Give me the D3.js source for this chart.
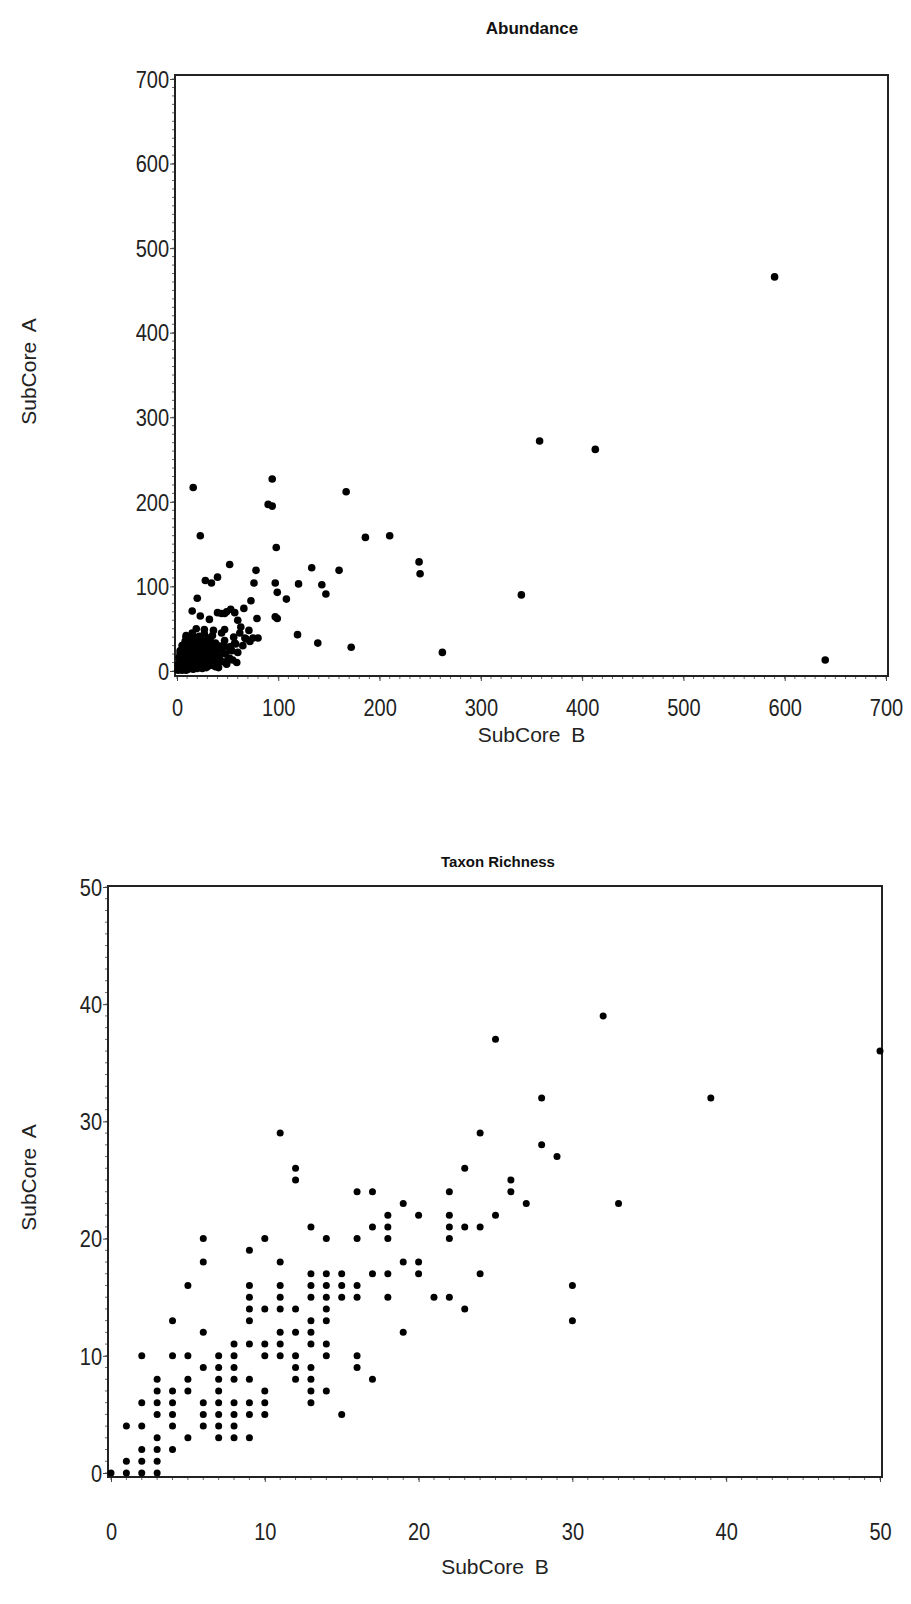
<!DOCTYPE html>
<meta charset="utf-8">
<style>
  body { margin: 0; background: #fff; }
  svg { display: block; }
  .tick text { font-family: "Liberation Sans", Arial, sans-serif; font-size: 23px; fill: #222; }
  .axis-title { font-family: "Liberation Sans", Arial, sans-serif; font-size: 21px; fill: #222; word-spacing: 5px; }
  .plot-title { font-family: "Liberation Sans", Arial, sans-serif; font-weight: bold; fill: #111; }
</style>
<script src="https://d3js.org/d3.v7.min.js"></script>
<body>
<script>

const width = 911;
const height = 1604;

// Abundance: [SubCore B, SubCore A]
const abundance = [
  [16,217],[94,227],[167,212],[90,197],[94,195],[23,160],[186,158],[210,160],[98,146],
  [52,126],[239,129],[240,115],[133,122],[160,119],[78,119],[40,111],[28,107],[34,104],
  [76,104],[97,104],[120,103],[143,102],[99,93],[147,91],[108,85],[20,86],[73,83],
  [15,71],[97,64],[99,62],[79,62],[119,43],[139,33],[172,28],[262,22],
  [590,466],[358,272],[413,262],[340,90],[640,13],
  [2,2],[3,5],[5,1],[6,8],[8,3],[4,12],[7,15],[9,6],[10,10],[11,2],[12,18],[13,7],
  [14,13],[15,4],[16,22],[17,9],[18,27],[19,15],[20,3],[21,11],[22,19],[23,6],[24,25],
  [25,14],[26,31],[27,9],[28,20],[29,4],[30,16],[31,24],[32,11],[33,35],[34,7],[35,19],
  [36,28],[37,14],[38,22],[39,9],[40,30],[42,17],[44,25],[45,11],[47,36],[48,20],[50,28],
  [52,15],[54,24],[56,40],[58,32],[60,22],[62,45],[65,30],[68,38],[72,35],[75,39],[80,39],
  [10,30],[8,22],[6,18],[12,38],[15,45],[18,35],[22,41],[27,44],[31,33],[9,42],[14,28],
  [5,25],[3,14],[1,7],[4,3],[7,28],[11,14],[13,24],[16,17],[19,8],[20,30],[23,12],[25,36],
  [28,28],[30,8],[33,21],[35,42],[38,33],[41,4],[43,27],[46,31],[49,8],[55,13],[50,12],
  [40,5],[57,33],[53,29],[59,10],[60,60],[63,52],[71,48],[44,45],[47,49],[36,48],[27,49],
  [19,50],[9,40],[16,33],[22,29],[32,61],[23,65],[40,69],[47,68],[53,73],[57,69],
  [66,74],[44,68],[49,70],[67,39],
  [1,1],[2,9],[3,20],[4,6],[5,15],[6,3],[7,11],[8,17],[9,1],[10,24],[11,7],[12,4],
  [13,15],[14,20],[15,9],[16,2],[17,28],[18,13],[19,22],[20,18],[21,5],[22,9],[23,26],
  [24,16],[25,3],[26,21],[27,14],[28,11],[29,33],[30,24],[31,6],[32,19],[33,28],[34,15],
  [35,10],[36,22],[37,31],[38,5],[39,17],[12,33],[8,35],[5,30],[2,16],[3,24],[6,12],
  [10,19],[14,37],[17,40],[20,22],[24,10],[26,17],[29,12],[31,39],[34,26],[21,34],[18,6],
  [15,26],[11,27],[7,5],[4,9]
];

// Taxon richness: [SubCore B, SubCore A]
const richness = [
  [0,0],[1,0],[2,0],[3,0],
  [1,1],[2,1],[3,1],
  [2,2],[3,2],[4,2],
  [3,3],[5,3],[7,3],[8,3],[9,3],
  [1,4],[2,4],[4,4],[6,4],[7,4],[8,4],
  [3,5],[4,5],[6,5],[7,5],[8,5],[9,5],[10,5],[15,5],
  [2,6],[3,6],[4,6],[6,6],[7,6],[8,6],[9,6],[10,6],[13,6],
  [3,7],[4,7],[5,7],[7,7],[10,7],[13,7],[14,7],
  [3,8],[5,8],[7,8],[8,8],[9,8],[12,8],[13,8],[17,8],
  [6,9],[7,9],[8,9],[12,9],[13,9],[16,9],
  [2,10],[4,10],[5,10],[7,10],[8,10],[10,10],[11,10],[12,10],[14,10],[16,10],
  [8,11],[9,11],[10,11],[11,11],[13,11],[14,11],
  [6,12],[11,12],[12,12],[13,12],[19,12],
  [4,13],[9,13],[13,13],[14,13],[30,13],
  [9,14],[10,14],[11,14],[12,14],[14,14],[23,14],
  [9,15],[11,15],[13,15],[14,15],[15,15],[16,15],[18,15],[21,15],[22,15],
  [5,16],[9,16],[11,16],[13,16],[14,16],[15,16],[16,16],[30,16],
  [13,17],[14,17],[15,17],[17,17],[18,17],[20,17],[24,17],
  [6,18],[11,18],[19,18],[20,18],
  [9,19],
  [6,20],[10,20],[14,20],[16,20],[18,20],[22,20],
  [13,21],[17,21],[18,21],[22,21],[23,21],[24,21],
  [18,22],[20,22],[22,22],[25,22],
  [19,23],[27,23],[33,23],
  [16,24],[17,24],[22,24],[26,24],
  [12,25],[26,25],
  [12,26],[23,26],
  [29,27],[28,28],[11,29],[24,29],
  [28,32],[39,32],[50,36],[25,37],[32,39]
];

const abundTicks = [0, 100, 200, 300, 400, 500, 600, 700];
const richTicks = [0, 10, 20, 30, 40, 50];

const squeeze = 0.87; // tick labels in the original are a bit narrow

const svg = d3.select("body").append("svg")
  .attr("width", width)
  .attr("height", height);

function drawPanel(p) {
  const g = svg.append("g");

  const x = d3.scaleLinear().domain([0, p.max]).range([p.left + p.inset[0], p.right - p.inset[1]]);
  const y = d3.scaleLinear().domain([0, p.max]).range([p.bottom - p.inset[2], p.top + p.inset[3]]);

  // minor ticks
  const minor = d3.range(0, p.max + 1e-9, p.minorStep);
  g.append("g").selectAll("line").data(minor).enter().append("line")
    .attr("x1", d => x(d)).attr("x2", d => x(d))
    .attr("y1", p.bottom).attr("y2", p.bottom + 3)
    .attr("stroke", "#666").attr("stroke-width", 1);
  g.append("g").selectAll("line").data(minor).enter().append("line")
    .attr("y1", d => y(d)).attr("y2", d => y(d))
    .attr("x1", p.left).attr("x2", p.left - 3)
    .attr("stroke", "#666").attr("stroke-width", 1);

  const xAxis = g.append("g")
    .attr("transform", `translate(0,${p.bottom})`)
    .call(d3.axisBottom(x).tickValues(p.ticks).tickSize(5).tickPadding(p.xPad));
  const yAxis = g.append("g")
    .attr("transform", `translate(${p.left},0)`)
    .call(d3.axisLeft(y).tickValues(p.ticks).tickSize(5).tickPadding(p.yPad));
  for (const a of [xAxis, yAxis]) {
    a.select(".domain").remove();
    a.selectAll(".tick line").attr("stroke", "#444");
  }
  xAxis.selectAll(".tick text")
    .attr("dy", "0.71em")
    .attr("transform", `scale(${squeeze},1)`);
  yAxis.selectAll(".tick text")
    .attr("dy", "0.36em")
    .attr("x", -(5 + p.yPad) / squeeze)
    .attr("transform", `scale(${squeeze},1)`);

  // frame
  g.append("rect")
    .attr("x", p.left).attr("y", p.top)
    .attr("width", p.right - p.left).attr("height", p.bottom - p.top)
    .attr("fill", "none").attr("stroke", "#222").attr("stroke-width", 2);

  g.append("g").selectAll("circle").data(p.data).enter().append("circle")
    .attr("cx", d => x(d[0]))
    .attr("cy", d => y(d[1]))
    .attr("r", p.r)
    .attr("fill", "#000");

  g.append("text").attr("class", "plot-title")
    .attr("x", p.titleX).attr("y", p.titleY)
    .style("font-size", p.titleSize + "px")
    .attr("text-anchor", "middle").text(p.title);

  g.append("text").attr("class", "axis-title")
    .attr("x", (p.left + p.right) / 2).attr("y", p.bottom + p.xTitle)
    .attr("text-anchor", "middle").text("SubCore B");

  g.append("text").attr("class", "axis-title")
    .attr("transform", `translate(36,${(p.top + p.bottom) / 2 - 4}) rotate(-90)`)
    .attr("text-anchor", "middle").text("SubCore A");
}

drawPanel({
  title: "Abundance", data: abundance, max: 700, ticks: abundTicks, minorStep: 10,
  left: 175, right: 888, top: 75, bottom: 676, inset: [2, 2, 5, 4], r: 3.8,
  xPad: 19, yPad: 1, xTitle: 66, titleX: 532, titleY: 34, titleSize: 17
});

drawPanel({
  title: "Taxon Richness", data: richness, max: 50, ticks: richTicks, minorStep: 1,
  left: 108, right: 882, top: 886, bottom: 1477, inset: [3, 2, 4, 1], r: 3.5,
  xPad: 42, yPad: 1, xTitle: 97, titleX: 498, titleY: 867, titleSize: 15
});
</script>
</body>
